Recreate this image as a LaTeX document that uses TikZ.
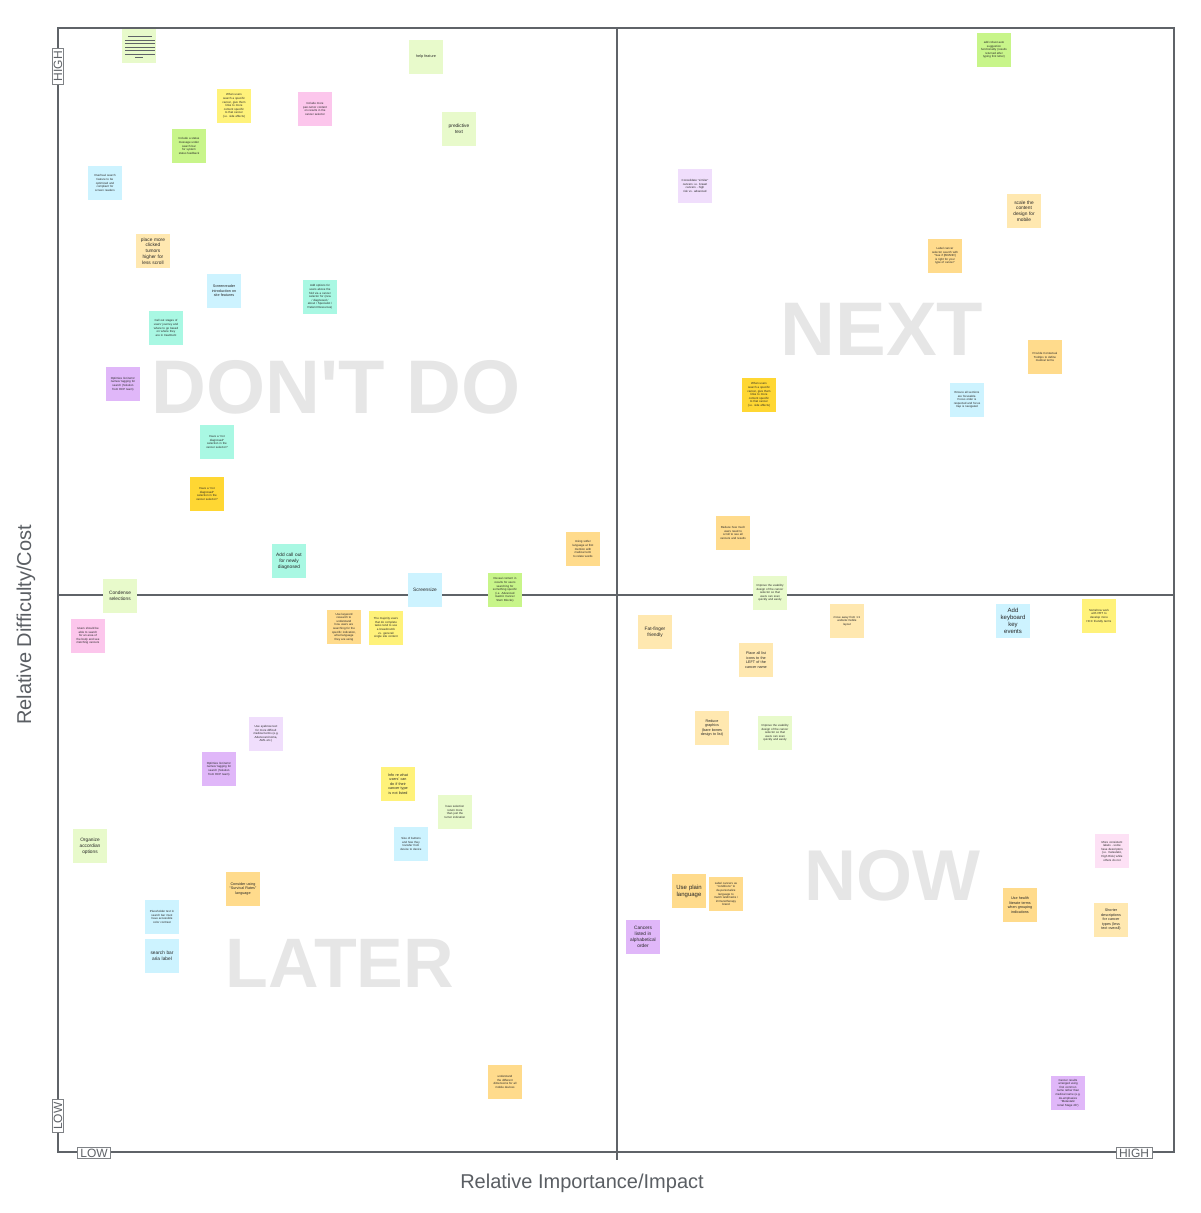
\documentclass[tikz,border=0pt]{standalone}
\usepackage{fontspec}
\setmainfont{Liberation Sans}
\newfontfamily\bigfont[Ligatures=TeXOff]{Liberation Sans}
\definecolor{axis}{HTML}{5F6368}
\definecolor{biglbl}{HTML}{E6E6E6}
\definecolor{lgreen}{HTML}{E8FACB}
\definecolor{lime}{HTML}{C8F58A}
\definecolor{yel}{HTML}{FFF27A}
\definecolor{gold}{HTML}{FFD733}
\definecolor{orng}{HTML}{FFDB8C}
\definecolor{peach}{HTML}{FFE8B0}
\definecolor{pnk}{HTML}{FCC6EC}
\definecolor{lpnk}{HTML}{FDE1F5}
\definecolor{blu}{HTML}{CDF3FF}
\definecolor{mint}{HTML}{A9F8E3}
\definecolor{purp}{HTML}{E0B7F9}
\definecolor{lpurp}{HTML}{F0DEFC}
\newcommand\nohy{\hyphenpenalty=10000 \exhyphenpenalty=10000 }
\newcommand\nfA{\nohy\fontsize{6}{7}\selectfont}
\newcommand\nfB{\nohy\fontsize{4.8}{5.8}\selectfont}
\newcommand\nfC{\nohy\fontsize{3.7}{4.5}\selectfont}
\newcommand\nfD{\nohy\fontsize{2.9}{3.6}\selectfont}
\tikzset{
  note/.style={minimum width=34pt, minimum height=34pt, inner sep=1pt, text width=27pt, align=center, text=black!85},
  bigword/.style={font=\bigfont\fontsize{76}{76}\bfseries\selectfont, text=biglbl, anchor=base, inner sep=0pt},
  axline/.style={draw=axis, line width=2.6pt},
  tag/.style={draw=axis!80, fill=white, line width=0.8pt, font=\fontsize{12}{12}\selectfont, text=axis, inner xsep=3pt, inner ysep=1.5pt},
  axtitle/.style={font=\fontsize{20}{20}\selectfont, text=axis!95!black}
}
\begin{document}
\begin{tikzpicture}[x=1pt,y=-1pt]
\useasboundingbox (0,0) rectangle (1200,1213);
% big background words
\node[bigword] (wdont) at (336,413) {DON'T DO};
\node[bigword] (wnext) at (882,355) {NEXT};
\node[bigword, font=\bigfont\fontsize{72}{72}\bfseries\selectfont] (wnow) at (892,900) {NOW};
\node[bigword, font=\bigfont\fontsize{70}{70}\bfseries\selectfont] (wlater) at (340,987) {LATER};
% axes and quadrant lines
\coordinate (tl) at (58,28);
\coordinate (tr) at (1174,28);
\coordinate (bl) at (58,1152);
\coordinate (br) at (1174,1152);
\coordinate (mt) at (617,28);
\coordinate (mb) at (617,1160);
\coordinate (ml) at (58,595);
\coordinate (mr) at (1174,595);
\draw[axline] (tl) -- (tr) -- (br) -- (bl) -- cycle;
\draw[axline] (mt) -- (mb);
\draw[axline] (ml) -- (mr);
% tags
\node[tag, rotate=90] (thigh) at (58,66) {HIGH};
\node[tag, rotate=90] (tlow) at (58,1116) {LOW};
\node[tag] (blow) at (94,1153) {LOW};
\node[tag] (bhigh) at (1134,1153) {HIGH};
\node[axtitle, rotate=90] (ytitle) at (26,625) {Relative Difficulty/Cost};
\node[axtitle] (xtitle) at (582,1183) {Relative Importance/Impact};
% ---------------- DON'T DO ----------------
\node[note, fill=lgreen] (n1) at (139,46) {};
\foreach \yy/\xa/\xb in {36.5/128/152, 40/125/155, 43.5/125/155, 47/125/155, 50.5/125/155, 54/125/155, 57.5/135/143}
  \draw[axis, line width=0.9pt] (\xa,\yy) -- (\xb,\yy);
\node[note, fill=lgreen, font=\nfC] (n2) at (426,57) {help feature};
\node[note, fill=yel, font=\nfD] (n3) at (234,106) {When users search a specific cancer, give them links to more content specific to that cancer (i.e. side effects)};
\node[note, fill=pnk, font=\nfD] (n4) at (315,109) {Include more pan-tumor content on results in the cancer selector};
\node[note, fill=lime, font=\nfD] (n5) at (189,146) {Include a status message under search bar for system status feedback};
\node[note, fill=blu, font=\nfD] (n6) at (105,183) {Overhaul search feature to be optimized and compliant for screen readers};
\node[note, fill=lgreen, font=\nfB] (n7) at (459,129) {predictive text};
\node[note, fill=peach, font=\nfB] (n8) at (153,251) {place more clicked tumors higher for less scroll};
\node[note, fill=blu, font=\nfC] (n9) at (224,291) {Screenreader introduction on site features};
\node[note, fill=mint, font=\nfD] (n10) at (320,297) {Add options for users above the fold via a cancer selector for (new / diagnosed / about / Specialist / Patient Resources)};
\node[note, fill=mint, font=\nfD] (n11) at (166,328) {Call out stages of users' journey and where to go based on where they are in treatment};
\node[note, fill=purp, font=\nfD] (n12) at (123,384) {Optimize list items' names/ tagging for search (Solution from HCP team)};
\node[note, fill=mint, font=\nfD] (n13) at (217,442) {Have a ``not diagnosed'' selection in the cancer selector?};
\node[note, fill=gold, font=\nfD] (n14) at (207,494) {Have a ``not diagnosed'' selection in the cancer selector?};
\node[note, fill=mint, font=\nfB] (n15) at (289,561) {Add call out for newly diagnosed};
\node[note, fill=orng, font=\nfD] (n18) at (583,549) {Using softer language at first mention with medical term to relate words};
% ---------------- on the middle line ----------------
\node[note, fill=lgreen, font=\nfB] (n16) at (120,596) {Condense selections};
\node[note, fill=blu, font=\nfB] (n19) at (425,590) {Screensize};
\node[note, fill=lime, font=\nfD] (n20) at (505,590) {Reveal content in results for users searching for something specific (i.e. Advanced Gastric Cancer Stem Blocks)};
% ---------------- LATER ----------------
\node[note, fill=pnk, font=\nfD] (n17) at (88,636) {Users should be able to search for an area of the body and see matching cancers};
\node[note, fill=orng, font=\nfD] (n21) at (344,627) {Use keyword research to understand how users are searching for the specific indication, what language they are using};
\node[note, fill=yel, font=\nfD] (n22) at (386,628) {The majority users that do complete tasks tend to use a breadcrumb vs. general/ single site content};
\node[note, fill=lpurp, font=\nfD] (n23) at (266,734) {Use eyebrow text for more difficult medical terms (e.g. Adenocarcinoma, AML etc.)};
\node[note, fill=purp, font=\nfD] (n24) at (219,769) {Optimize list items' names/ tagging for search (Solution from HCP team)};
\node[note, fill=yel, font=\nfC] (n25) at (398,784) {Info re what users' can do if their cancer type is not listed};
\node[note, fill=lgreen, font=\nfD] (n26) at (455,812) {have selection return more than just the tumor indication};
\node[note, fill=blu, font=\nfD] (n27) at (411,844) {Size of buttons and how they transfer from device to device};
\node[note, fill=lgreen, font=\nfB] (n28) at (90,846) {Organize accordian options};
\node[note, fill=orng, font=\nfC] (n29) at (243,889) {Consider using ``Survival Rates'' language};
\node[note, fill=blu, font=\nfD] (n30) at (162,917) {Placeholder text in search bar must have accessible color contrast};
\node[note, fill=blu, font=\nfB] (n31) at (162,956) {search bar aria label};
\node[note, fill=orng, font=\nfD] (n32) at (505,1082) {understand the different dimensions for all mobile devices};
% ---------------- NEXT ----------------
\node[note, fill=lime, font=\nfD] (n33) at (994,50) {add robust auto suggestion functionality (results returned after typing first letter)};
\node[note, fill=lpurp, font=\nfD] (n34) at (695,186) {Consolidate ``similar'' cancers i.e. breast cancers - high risk vs. advanced};
\node[note, fill=peach, font=\nfB] (n35) at (1024,211) {scale the content design for mobile};
\node[note, fill=orng, font=\nfD] (n36) at (945,256) {Label cancer selector search with ``See if [BRAND] is right for your type of cancer''};
\node[note, fill=orng, font=\nfD] (n37) at (1045,357) {Provide Contextual Tooltips to define medical terms};
\node[note, fill=gold, font=\nfD] (n38) at (759,395) {When users search a specific cancer, give them links to more content specific to that cancer (i.e. side effects)};
\node[note, fill=blu, font=\nfD] (n39) at (967,400) {Ensure all sections are focusable. Focus order is respected and focus trap is navigated};
\node[note, fill=orng, font=\nfD] (n40) at (733,533) {Reduce how much users need to scroll to see all cancers and results};
\node[note, fill=lgreen, font=\nfD] (n41) at (770,593) {Improve the usability design of the cancer selector so that users can scan quickly and easily};
% ---------------- NOW ----------------
\node[note, fill=peach, font=\nfB] (n42) at (655,632) {Fat-finger friendly};
\node[note, fill=peach, font=\nfD] (n43) at (847,621) {move away from 1:1 website:mobile layout};
\node[note, fill=blu, font=\nfA] (n44) at (1013,621) {Add keyboard key events};
\node[note, fill=yel, font=\nfD] (n45) at (1099,616) {Somehow work with PRT to develop more HCC friendly terms};
\node[note, fill=peach, font=\nfC] (n46) at (756,660) {Place all list icons to the LEFT of the cancer name};
\node[note, fill=peach, font=\nfC] (n47) at (712,728) {Reduce graphics (bare bones design to list)};
\node[note, fill=lgreen, font=\nfD] (n48) at (775,733) {Improve the usability design of the cancer selector so that users can scan quickly and easily};
\node[note, fill=orng, font=\nfA] (n49) at (689,891) {Use plain language};
\node[note, fill=orng, font=\nfD] (n50) at (726,894) {Label cancers as ``conditions'' to de-personalize language to match landmarks / immunotherapy brand};
\node[note, fill=purp, font=\nfB] (n51) at (643,937) {Cancers listed in alphabetical order};
\node[note, fill=orng, font=\nfC] (n52) at (1020,905) {Use health literate terms when grouping indications};
\node[note, fill=lpnk, font=\nfD] (n53) at (1112,851) {More consistent labels - some have descriptors (i.e. metastatic, High Risk) while others do not};
\node[note, fill=peach, font=\nfC] (n54) at (1111,920) {Shorter descriptions for cancer types (less text overall)};
\node[note, fill=purp, font=\nfD] (n55) at (1068,1093) {Cancer results arranged using first common name rather than medical name (e.g. de-emphasize ``Metastatic renal Stage 4b'')};
\end{tikzpicture}
\end{document}
